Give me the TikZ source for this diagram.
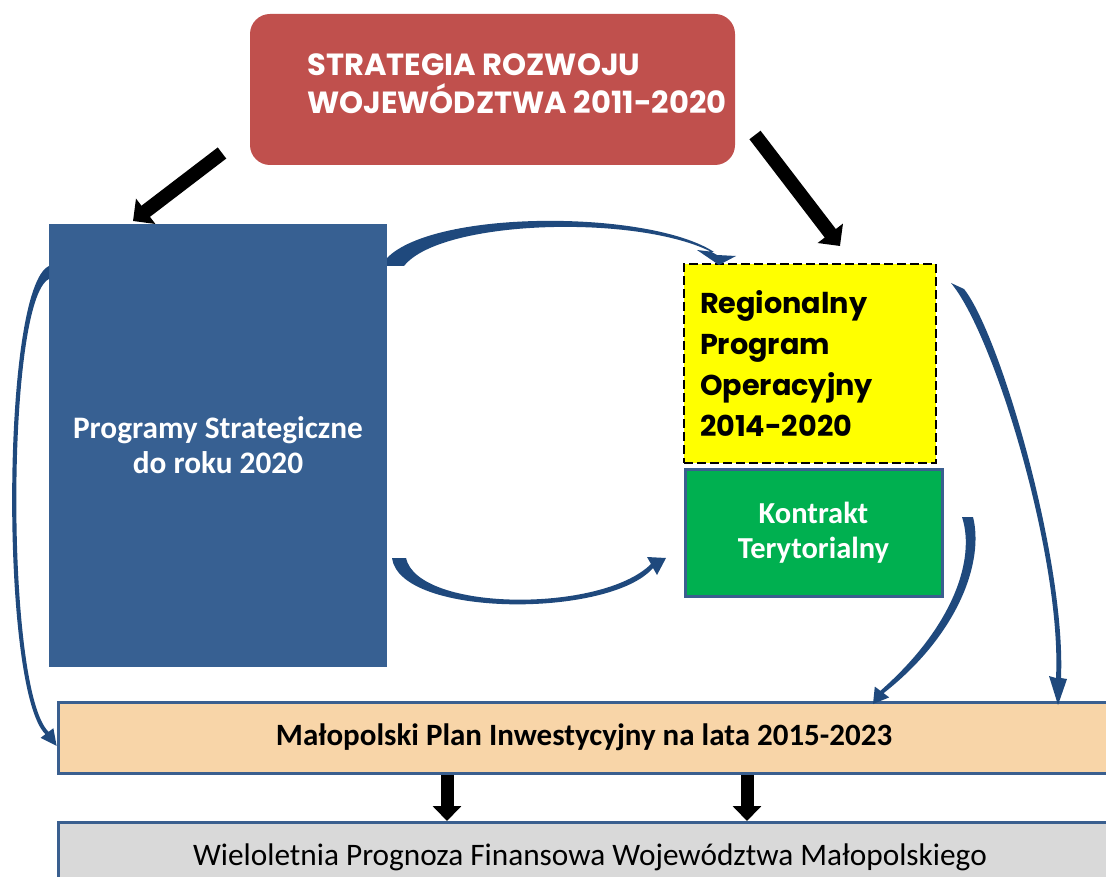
\documentclass[tikz,border=0pt]{standalone}
\usepackage{fontspec}
\setmainfont{Carlito}
\newfontfamily\geofont{Poppins}
\usetikzlibrary{arrows.meta,calc}
\definecolor{srred}{HTML}{C0504D}
\definecolor{psblue}{HTML}{376092}
\definecolor{bordblue}{HTML}{3A5F8F}
\definecolor{ktgreen}{HTML}{00B050}
\definecolor{rpoyellow}{HTML}{FFFF00}
\definecolor{peach}{HTML}{F8D5A8}
\definecolor{lgray}{HTML}{D9D9D9}
\definecolor{arrblue}{HTML}{1F497D}
\begin{document}
\begin{tikzpicture}[x=1pt,y=-1pt,
  box/.style={rectangle,inner sep=0pt,outer sep=0pt},
  blockarr/.style={draw=black,line width=14pt,-{Triangle[length=16pt,width=31pt]}},
  downarr/.style={draw=black,line width=13pt,-{Triangle[length=15pt,width=28pt]}},
  tapered/.style={fill=arrblue}]
\useasboundingbox (0,0) rectangle (1106,877);

% boxes
\node[box,fill=srred,rounded corners=20pt,minimum width=485pt,minimum height=151pt] (sr) at (492.5,89.5) {};
\node[inner sep=0pt,align=left,text=white,font=\geofont\bfseries\fontsize{30.6}{38}\selectfont] (srtxt) at (517,84) {STRATEGIA ROZWOJU\\WOJEWÓDZTWA 2011-2020};

\node[box,fill=psblue,minimum width=338pt,minimum height=443pt,text=white,align=center,
  font=\bfseries\fontsize{31.3}{35}\selectfont] (ps) at (218,445.5) {Programy Strategiczne\\do roku 2020};

\node[box,fill=rpoyellow,draw=black,line width=2pt,dash pattern=on 9pt off 4pt,
  minimum width=252pt,minimum height=199pt,text width=220pt,inner xsep=16pt,align=left,
  font=\geofont\bfseries\fontsize{28.7}{41}\selectfont] (rpo) at (810,363.5)
  {Regionalny\\Program\\Operacyjny\\2014-2020};

\node[box,fill=ktgreen,draw=bordblue,line width=3pt,minimum width=257pt,minimum height=127pt,
  text=white,align=center,font=\bfseries\fontsize{30.5}{35}\selectfont] (kt) at (813.5,532.5)
  {Kontrakt\\Terytorialny};

\node[box,fill=peach,draw=bordblue,line width=3pt,minimum width=1052pt,minimum height=71pt,
  font=\bfseries\fontsize{31}{34}\selectfont] (mpi) at (584,737.5)
  {\raisebox{-2pt}{Małopolski Plan Inwestycyjny na lata 2015-2023}};

\node[box,fill=lgray,draw=bordblue,line width=3pt,minimum width=1064pt,minimum height=70pt,
  font=\fontsize{31.3}{35}\selectfont] (wpf) at (590,857)
  {Wieloletnia Prognoza Finansowa Województwa Małopolskiego};

% black block arrows
\draw[blockarr] ($(sr.south west)+(-28,-12)$) -- ($(ps.north west)+(84,-3)$);
\draw[blockarr] ($(sr.south east)+(20,-30)$) -- ($(rpo.north west)+(156,-18)$);
\coordinate (dx1) at (447,0);
\coordinate (dx2) at (747,0);
\draw[downarr] ($(mpi.south -| dx1)+(0,2)$) -- ($(wpf.north -| dx1)+(0,-1)$);
\draw[downarr] ($(mpi.south -| dx2)+(0,2)$) -- ($(wpf.north -| dx2)+(0,-1)$);

% tapered curved arrows
% ps -> rpo (top)
\fill[tapered] ($(ps.north east)+(0,34)$)
  .. controls (435,209) and (650,210) .. (714,252)
  -- (697,250) -- (719,265) -- (736,256) -- (717,255)
  .. controls (648,214) and (442,218) .. (404,266)
  -- ($(ps.north east)+(0,42)$) -- cycle;
% ps -> kt (bottom)
\fill[tapered] ($(ps.south east)+(5,-109)$)
  .. controls (400,618) and (610,618) .. (653,568)
  -- (657,575) -- (666,558) -- (647,557) -- (651,564)
  .. controls (602,613) and (418,612) .. ($(ps.south east)+(19,-109)$) -- cycle;
% ps -> mpi (left)
\fill[tapered] ($(ps.north west)+(0,42)$)
  .. controls (1,288) and (0,690) .. (45.4,734.2)
  -- (40.6,737.8) -- (56.6,745.8) -- (53.4,728.2) -- (48.6,731.8)
  .. controls (5,690) and (6,300) .. ($(ps.north west)+(0,55)$) -- cycle;
% rpo -> mpi (right, long)
\fill[tapered] ($(rpo.north east)+(15,19)$)
  .. controls (995,336) and (1062,560) .. (1056,678)
  -- (1049,676) -- (1058,705) -- (1067,679) -- (1061,678)
  .. controls (1066,560) and (1000,334) .. ($(rpo.north east)+(28,25)$) -- cycle;
% kt -> mpi
\fill[tapered] ($(kt.north east)+(20,48)$)
  .. controls (976,560) and (952,628) .. (880.4,690.8)
  -- (874.8,686.6) -- (873,704) -- (889.2,697.4) -- (883.6,693.2)
  .. controls (960,633) and (984,560) .. ($(kt.north east)+(31,48)$) -- cycle;
\end{tikzpicture}
\end{document}
